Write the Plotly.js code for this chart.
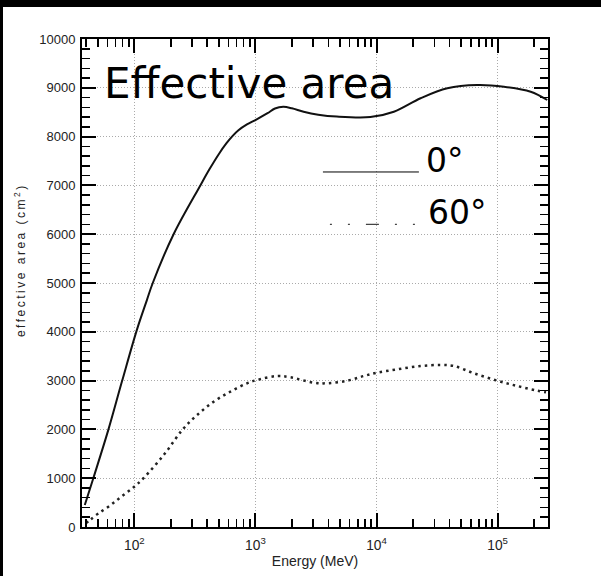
<!DOCTYPE html>
<html>
<head>
<meta charset="utf-8">
<script src="https://cdn.plot.ly/plotly-3.0.1.min.js"></script>
<style>
  html, body { margin: 0; padding: 0; background: #000; width: 601px; height: 576px; overflow: hidden; }
  #chart { position: absolute; left: 3px; top: 7px; width: 598px; height: 569px; background: #fff; }
  g.annotation[data-index="0"] text { letter-spacing: 2.5px; }
</style>
</head>
<body>
<div id="chart"></div>
<script>
// Energy (MeV) and effective area (cm^2)
const energy0 = [39, 46, 61, 79, 105, 127, 142, 211, 351, 417, 501, 575, 646, 724, 851, 1000, 1259, 1450, 1698, 2000, 2500, 3300, 4700, 8900, 13900, 23100, 38400, 67900, 112700, 187500, 257000];
const area0   = [450, 1010, 1990, 2980, 4040, 4650, 5000, 6000, 7000, 7330, 7650, 7860, 8010, 8130, 8250, 8340, 8480, 8575, 8610, 8580, 8510, 8450, 8410, 8400, 8510, 8785, 8990, 9057, 9023, 8920, 8750];

const energy60 = [40, 43, 50, 63, 79, 100, 119, 178, 251, 330, 452, 621, 853, 1030, 1510, 1945, 3030, 3910, 5730, 7850, 10140, 14830, 23100, 33800, 43600, 63700, 99500, 145500, 212800, 251000];
const area60   = [80, 143, 270, 440, 630, 826, 1000, 1500, 2000, 2295, 2568, 2773, 2945, 3012, 3094, 3068, 2957, 2945, 2998, 3094, 3162, 3231, 3299, 3320, 3299, 3150, 2998, 2889, 2793, 2760];

const seriesNames = ['0°', '60°'];
const chartTitle = 'Effective area';
const xTitle = 'Energy (MeV)';
const yTitle = 'effective area (cm<sup>2</sup>)';

const traces = [
  { x: energy0, y: area0, name: seriesNames[0], type: 'scatter', mode: 'lines',
    line: { color: '#111', width: 2, shape: 'spline', smoothing: 1 }, showlegend: false },
  { x: energy60, y: area60, name: seriesNames[1], type: 'scatter', mode: 'lines',
    line: { color: '#222', width: 2.5, dash: '2.5px,4px', shape: 'spline', smoothing: 1 }, showlegend: false }
];

const labelFamily = 'Liberation Sans, Arial, sans-serif';
const bigFamily = 'DejaVu Sans, Verdana, sans-serif';

const layout = {
  width: 598, height: 569,
  margin: { l: 79, r: 53, t: 32, b: 49, pad: 0 },
  paper_bgcolor: '#fff', plot_bgcolor: '#fff',
  showlegend: false,
  xaxis: {
    type: 'log', range: [1.568, 5.416], autorange: false,
    dtick: 1, exponentformat: 'power',
    ticks: 'inside', ticklen: 14, tickwidth: 2, tickcolor: '#000',
    minor: { ticks: 'inside', ticklen: 8, tickwidth: 1.5, tickcolor: '#000', dtick: 'D1', showgrid: false },
    showline: true, linecolor: '#000', linewidth: 2, mirror: 'ticks',
    showgrid: true, gridcolor: '#aaa', gridwidth: 1, griddash: '1px,2px',
    zeroline: false,
    tickfont: { family: labelFamily, size: 11, color: '#222' },
    ticklabelstandoff: 5,
    title: { text: xTitle, font: { family: labelFamily, size: 14, color: '#222' }, standoff: 4 }
  },
  yaxis: {
    range: [0, 10000], autorange: false,
    dtick: 1000, tickformat: 'd',
    ticks: 'inside', ticklen: 14, tickwidth: 2, tickcolor: '#000',
    minor: { ticks: 'inside', ticklen: 8, tickwidth: 1.5, tickcolor: '#000', dtick: 200, showgrid: false },
    showline: true, linecolor: '#000', linewidth: 2, mirror: 'ticks',
    showgrid: true, gridcolor: '#aaa', gridwidth: 1, griddash: '1px,2px',
    zeroline: false,
    tickfont: { family: labelFamily, size: 13, color: '#222' },
    ticklabelstandoff: 2
  },
  annotations: [
    { text: yTitle, xref: 'paper', yref: 'paper', x: -0.133, y: 0.547, xanchor: 'center', yanchor: 'middle',
      textangle: -90, showarrow: false, font: { family: labelFamily, size: 12, color: '#222' } },
    { text: chartTitle, xref: 'paper', yref: 'paper', x: 0.043, y: 0.909, xanchor: 'left', yanchor: 'middle',
      showarrow: false, font: { family: bigFamily, size: 42, color: '#000' } },
    { text: seriesNames[0], xref: 'paper', yref: 'paper', x: 0.733, y: 0.751, xanchor: 'left', yanchor: 'middle',
      showarrow: false, font: { family: bigFamily, size: 33, color: '#000' } },
    { text: seriesNames[1], xref: 'paper', yref: 'paper', x: 0.738, y: 0.645, xanchor: 'left', yanchor: 'middle',
      showarrow: false, font: { family: bigFamily, size: 33, color: '#000' } }
  ],
  shapes: [
    { type: 'line', xref: 'paper', yref: 'paper', x0: 0.517, x1: 0.723, y0: 0.7275, y1: 0.7275,
      line: { color: '#000', width: 1 } },
    { type: 'line', xref: 'paper', yref: 'paper', x0: 0.532, x1: 0.7146, y0: 0.620, y1: 0.620,
      line: { color: '#444', width: 1.2, dash: '2px,16px,2px,16px,13px,16px,2px,16px,2px,30px' } }
  ]
};

Plotly.newPlot('chart', traces, layout, { staticPlot: true, displayModeBar: false });
</script>
</body>
</html>
